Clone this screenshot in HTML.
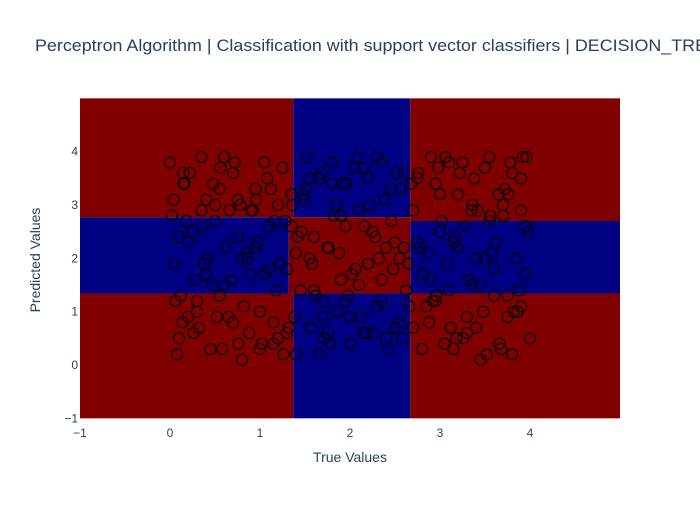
<!DOCTYPE html>
<html><head><meta charset="utf-8"><style>
body{margin:0;background:#fff;font-family:"Liberation Sans",sans-serif}
</style></head><body>
<svg id="chart" width="700" height="500" xmlns="http://www.w3.org/2000/svg">
<text x="35" y="51" font-size="17" fill="#2a3f5f" textLength="672" lengthAdjust="spacingAndGlyphs" font-family="Liberation Sans, sans-serif">Perceptron Algorithm | Classification with support vector classifiers | DECISION_TRE</text>
<g id="regions"></g><g id="points"></g><g id="axes"></g>
<text x="350" y="462" font-size="14" fill="#2a3f5f" text-anchor="middle">True Values</text>
<text transform="translate(40,260) rotate(-90)" font-size="14" fill="#2a3f5f" text-anchor="middle">Predicted Values</text>
</svg>
<script>
const xTicks=[-1,0,1,2,3,4];
const yTicks=[-1,0,1,2,3,4];
const regX0=[-1,1.37,2.67,-1,1.32,2.67,-1,1.37,2.67];
const regX1=[1.37,2.67,5,1.32,2.67,5,1.37,2.67,5];
const regY0=[2.77,2.77,2.7,1.34,1.34,1.34,-1,-1,-1];
const regY1=[5,5,5,2.77,2.77,2.7,1.34,1.34,1.34];
const regClass=[0,1,0,1,0,1,0,1,0];
const ptX=[0,0.05,0.1,0.15,0.2,0.3,0.35,0.45,0.5,0.6,0.7,0.8,0.85,0.95,1.0,1.1,1.15,1.25,1.3,1.4,1.5,1.6,1.7,1.8,1.9,2.0,2.1,2.2,2.3,2.4,2.5,2.6,2.65,2.8,2.9,3.0,3.1,3.2,3.3,3.4,3.5,3.6,3.7,3.8,3.9,3.95,
0.02,0.12,0.22,0.32,0.42,0.55,0.65,0.75,0.9,1.05,1.2,1.35,1.45,1.55,1.65,1.75,1.85,1.95,2.05,2.15,2.25,2.35,2.45,2.55,2.7,2.85,2.95,3.05,3.15,3.25,3.35,3.45,3.55,3.65,3.75,3.85,3.92,
0.08,0.18,0.28,0.4,0.52,0.62,0.72,0.82,0.92,1.02,1.12,1.22,1.32,1.42,1.52,1.62,1.72,1.82,1.92,2.02,2.12,2.22,2.32,2.42,2.52,2.62,2.75,2.88,2.98,3.08,3.18,3.28,3.38,3.48,3.58,3.68,3.78,3.88,3.98,
0.04,0.14,0.25,0.38,0.48,0.58,0.68,0.78,0.88,0.98,1.08,1.18,1.28,1.38,1.48,1.58,1.68,1.78,1.88,1.98,2.08,2.18,2.28,2.38,2.48,2.58,2.68,2.78,2.92,3.02,3.12,3.22,3.32,3.42,3.52,3.62,3.72,3.82,3.9,
0.06,0.16,0.26,0.36,0.46,0.56,0.66,0.76,0.86,0.96,1.06,1.16,1.26,1.36,1.46,1.56,1.66,1.76,1.86,1.96,2.06,2.16,2.26,2.36,2.46,2.56,2.66,2.76,2.86,2.96,3.06,3.16,3.26,3.36,3.46,3.56,3.66,3.76,3.86,3.96,
0.1,0.3,0.5,0.7,0.9,1.1,1.3,1.5,1.7,1.9,2.1,2.3,2.5,2.7,2.9,3.1,3.3,3.5,3.7,3.9,
0.2,0.4,0.6,0.8,1.0,1.2,1.4,1.6,1.8,2.0,2.2,2.4,2.6,2.8,3.0,3.2,3.4,3.6,3.8,4.0,
0.15,0.35,0.55,0.75,0.95,1.15,1.35,1.55,1.75,1.95,2.15,2.35,2.55,2.75,2.95,3.15,3.35,3.55,3.75,3.95];
const ptY=[3.8,1.9,0.5,3.4,2.3,1.2,3.9,0.3,2.7,1.5,3.6,0.1,2.1,3.3,1.0,2.6,0.4,3.7,1.8,0.2,3.1,2.4,0.9,3.8,1.6,0.4,2.9,3.5,1.1,2.2,0.7,3.6,1.9,0.3,3.9,2.5,1.4,3.2,0.6,2.0,3.7,1.3,2.8,0.2,3.5,1.7,
2.8,1.3,3.6,0.7,2.0,3.3,0.9,2.4,1.7,3.8,0.5,2.6,1.4,3.5,0.2,2.2,3.0,1.2,3.7,0.6,2.5,1.6,3.3,0.8,2.9,1.1,3.4,0.4,2.3,3.8,1.5,0.1,2.7,3.2,0.9,2.0,3.9,
0.2,2.7,1.6,3.1,0.9,2.2,3.8,1.1,2.9,0.4,3.3,1.9,0.7,2.4,3.9,1.3,0.5,2.8,3.4,1.7,0.9,3.0,2.0,0.3,3.6,1.4,2.3,0.8,3.7,1.9,0.5,2.6,3.5,1.0,2.1,0.3,3.8,1.4,2.5,
3.1,0.8,2.5,1.9,3.4,0.3,1.6,3.0,0.6,2.3,3.5,1.4,2.7,0.9,3.2,1.9,3.6,0.4,2.1,1.3,3.9,0.6,2.4,3.1,1.8,0.5,3.4,2.2,1.2,2.7,0.7,3.6,1.6,2.9,0.2,2.3,3.3,1.0,2.9,
1.2,3.4,0.6,2.6,1.5,3.7,2.9,0.4,2.0,3.1,1.7,2.7,0.2,3.0,2.5,0.7,3.5,2.2,1.0,3.4,1.8,2.6,0.6,3.8,2.7,3.3,1.1,3.6,2.1,1.3,3.9,2.4,0.5,3.0,1.5,2.8,0.4,3.2,1.0,3.9,
2.4,1.0,3.0,0.8,2.9,1.8,0.6,3.3,1.2,2.8,1.5,3.9,2.3,0.7,1.6,3.8,0.9,2.0,3.0,1.1,
0.9,1.7,3.9,2.0,0.3,3.0,2.1,1.4,3.4,0.9,1.9,0.5,2.2,1.7,3.2,2.2,0.7,1.8,3.6,0.5,
3.6,2.9,1.3,3.1,2.2,0.8,3.2,2.0,0.6,2.6,3.7,1.2,2.0,3.5,1.2,0.3,2.9,3.9,1.3,2.6];
const X=v=>170+90*v, Y=v=>365-53.33*v;
const svg=document.getElementById('chart'),NS='http://www.w3.org/2000/svg';
const rg=document.getElementById('regions');
for(let i=0;i<regX0.length;i++){
 const r=document.createElementNS(NS,'rect');
 r.setAttribute('x',X(regX0[i]));r.setAttribute('y',Y(regY1[i]));
 r.setAttribute('width',X(regX1[i])-X(regX0[i]));r.setAttribute('height',Y(regY0[i])-Y(regY1[i]));
 r.setAttribute('fill',regClass[i]?'#000083':'#800000');
 
 
 rg.appendChild(r);}
const pg=document.getElementById('points');
for(let i=0;i<ptX.length;i++){
 const c=document.createElementNS(NS,'circle');
 c.setAttribute('cx',X(ptX[i]));c.setAttribute('cy',Y(ptY[i]));c.setAttribute('r',5.5);
 c.setAttribute('fill','none');c.setAttribute('stroke','#000');c.setAttribute('stroke-width',1.1);
 
 
 pg.appendChild(c);}
const ax=document.getElementById('axes');
xTicks.forEach(t=>{const e=document.createElementNS(NS,'text');e.setAttribute('x',X(t));e.setAttribute('y',437);e.setAttribute('font-size',12);e.setAttribute('fill','#2a3f5f');e.setAttribute('text-anchor','middle');e.textContent=t<0?'\u2212'+(-t):t;
 
 
 ax.appendChild(e);});
yTicks.forEach(t=>{const e=document.createElementNS(NS,'text');e.setAttribute('x',78);e.setAttribute('y',Y(t)+4);e.setAttribute('font-size',12);e.setAttribute('fill','#2a3f5f');e.setAttribute('text-anchor','end');e.textContent=t<0?'\u2212'+(-t):t;
 
 
 ax.appendChild(e);});
</script>
</body></html>
